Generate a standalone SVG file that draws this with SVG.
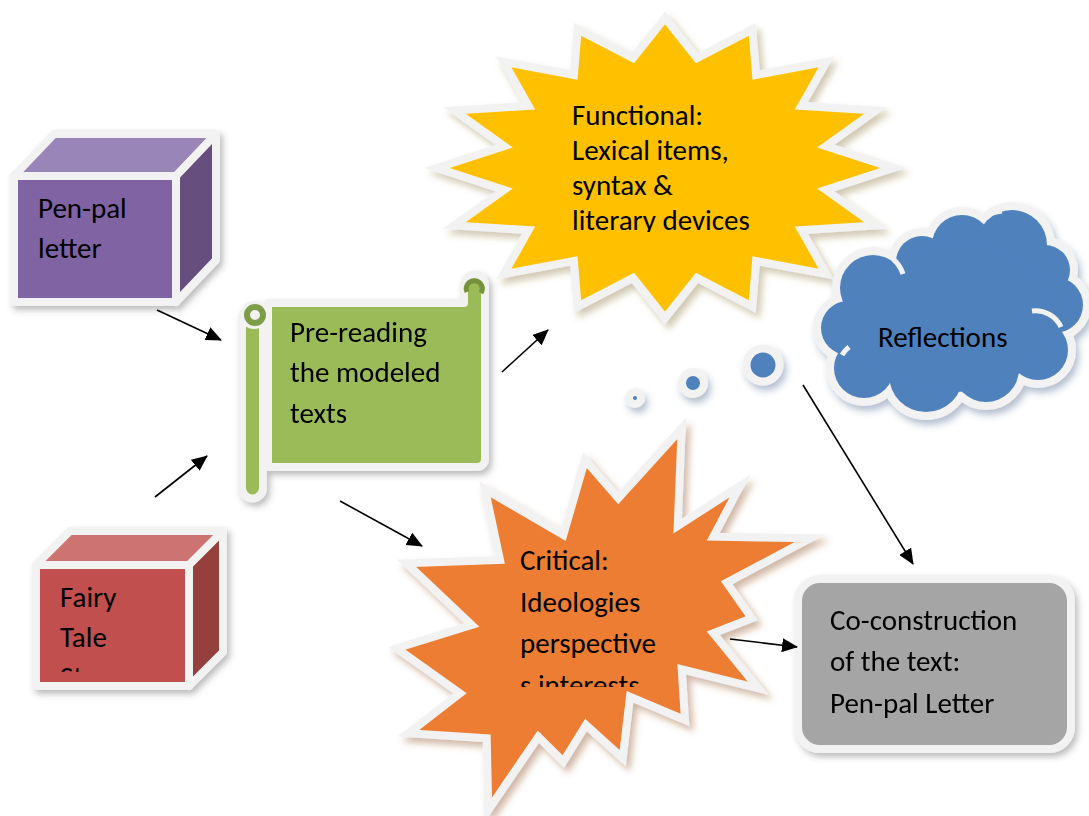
<svg xmlns="http://www.w3.org/2000/svg" width="1089" height="816" viewBox="0 0 1089 816">
<defs>
<style>
.t{font-family:Carlito,Lato,"Liberation Sans",sans-serif;font-size:29px;fill:#000;}
.w{stroke:#F2F2F2;stroke-width:8;stroke-linejoin:miter;}
.wr{stroke:#F2F2F2;stroke-width:8;stroke-linejoin:round;}
.conn{stroke:#000;stroke-width:1.6;fill:none;marker-end:url(#ah);}
</style>
<marker id="ah" markerWidth="16" markerHeight="14" refX="15" refY="7" orient="auto" markerUnits="userSpaceOnUse">
<path d="M0,0 L16,7 L0,14 Z" fill="#000"/>
</marker>
<filter id="shG" x="-20%" y="-20%" width="150%" height="150%"><feDropShadow dx="3" dy="4" stdDeviation="3" flood-color="#404040" flood-opacity="0.35"/></filter>
<filter id="shO" x="-20%" y="-20%" width="150%" height="150%"><feDropShadow dx="4" dy="5" stdDeviation="3.5" flood-color="#8a4a1a" flood-opacity="0.4"/></filter>
<filter id="shY" x="-20%" y="-20%" width="150%" height="150%"><feDropShadow dx="4" dy="5" stdDeviation="3.5" flood-color="#7a6220" flood-opacity="0.35"/></filter>
<filter id="shB" x="-20%" y="-20%" width="150%" height="150%"><feDropShadow dx="3" dy="5" stdDeviation="3.5" flood-color="#2a4a7a" flood-opacity="0.35"/></filter>
<clipPath id="clipY"><rect x="400" y="0" width="600" height="232"/></clipPath>
<clipPath id="clipO"><rect x="400" y="400" width="400" height="287"/></clipPath>
<clipPath id="clipR"><rect x="0" y="500" width="250" height="172"/></clipPath>
<g id="cloudShapes">
<circle cx="873" cy="288" r="33"/><circle cx="922" cy="262" r="26"/><circle cx="962" cy="245" r="30"/><circle cx="1012" cy="245" r="35"/><circle cx="1045" cy="270" r="25"/><circle cx="1055" cy="305" r="28"/><circle cx="1038" cy="350" r="30"/><circle cx="986" cy="369" r="33"/><circle cx="926" cy="375" r="37"/><circle cx="864" cy="368" r="30"/><circle cx="848" cy="328" r="27"/><ellipse cx="955" cy="318" rx="97" ry="74"/>
</g>
</defs>
<rect width="1089" height="816" fill="#fff"/>

<g id="functional">
<polygon filter="url(#shY)" class="w" fill="#FFC000" points="665,18 697,58.1 752.3,29.4 756.1,74.9 826.2,61.9 801.4,105.8 875.7,110.6 825.9,146.1 893,168 825.9,189.9 875.7,225.4 801.4,230.2 826.2,274.1 756.1,261.1 752.3,306.6 697,277.9 665,318 633,277.9 577.7,306.6 573.9,261.1 503.8,274.1 528.6,230.2 454.3,225.4 504.1,189.9 437,168 504.1,146.1 454.3,110.6 528.6,105.8 503.8,61.9 573.9,74.9 577.7,29.4 633,58.1"/>
<g clip-path="url(#clipY)">
<text class="t" x="572" y="125">Functional:</text>
<text class="t" x="572" y="160">Lexical items,</text>
<text class="t" x="572" y="195">syntax &amp;</text>
<text class="t" x="572" y="230">literary devices</text>
</g>
</g>

<g id="reflections">
<g filter="url(#shB)">
<use href="#cloudShapes" fill="#F2F2F2" stroke="#F2F2F2" stroke-width="16"/>
</g>
<use href="#cloudShapes" fill="#4F81BD"/>
<g fill="none" stroke="#F2F2F2" stroke-width="5">
<path d="M1032,311 A28,28 0 0 1 1061,327"/>
<path d="M893,259 A33,33 0 0 1 903,274"/>
<path d="M993,213 A35,35 0 0 1 1002,211"/>
<path d="M842,355 A28,28 0 0 1 849,347"/>
</g>
<text class="t" x="878" y="347">Reflections</text>
<g filter="url(#shB)" fill="#4F81BD" stroke="#F2F2F2" stroke-width="8">
<circle cx="763" cy="365" r="16.5"/>
<circle cx="693" cy="383" r="11"/>
<circle cx="635" cy="398" r="6"/>
</g>
</g>

<g id="prereading" filter="url(#shG)">
<path class="wr" fill="#9BBB59" d="M268,303 H464 V285 A10.5,10.5 0 0 1 485,285 V459 A8,8 0 0 1 477,467 H268 Z"/>
<path class="wr" fill="#9BBB59" d="M242,316 V488 A10.5,10.5 0 0 0 263,488 V316 Z"/>
<circle cx="254" cy="315" r="11" fill="#9BBB59" stroke="#F2F2F2" stroke-width="6"/>
<circle cx="255" cy="315" r="8" fill="#F2F2F2" stroke="#7E9D48" stroke-width="6"/>
<path d="M467,292 A8,8 0 1 1 481,293" fill="none" stroke="#76923C" stroke-width="5"/>
<text class="t" x="290" y="342">Pre-reading</text>
<text class="t" x="290" y="382">the modeled</text>
<text class="t" x="290" y="423">texts</text>
</g>

<g id="critical">
<polygon filter="url(#shO)" class="w" fill="#ED7D31" points="681.7,428.3 677.7,526 740,486 713.3,536.7 810,538.3 726.7,582.7 751.7,618.3 713.3,633.3 758.3,688.3 681.7,669.3 685,720 630,696.7 622.7,758.3 586,725 563.3,761.7 538.3,736.7 488.3,810 486.7,738.3 408.3,733.3 460,693.3 396.7,648.3 471.7,625 406.7,563.3 500,560 485,489.3 563.3,535 585,460 618.3,498.3"/>
<g clip-path="url(#clipO)">
<text class="t" x="520" y="570">Critical:</text>
<text class="t" x="520" y="612">Ideologies</text>
<text class="t" x="520" y="653">perspective</text>
<text class="t" x="520" y="695">s interests</text>
</g>
</g>

<g id="coconstruction" filter="url(#shG)">
<rect class="w" x="798" y="579" width="273" height="170" rx="22" fill="#A5A5A5"/>
<text class="t" x="830" y="630">Co-construction</text>
<text class="t" x="830" y="671">of the text:</text>
<text class="t" x="830" y="713">Pen-pal Letter</text>
</g>

<g id="penpal">
<g filter="url(#shG)">
<polygon class="wr" fill="#9A85B8" points="14,176 54,134 216,134 176,176"/>
<polygon class="wr" fill="#66507F" points="176,176 216,134 216,260 176,302"/>
<rect class="wr" x="14" y="176" width="162" height="126" fill="#8064A2"/>
</g>
<text class="t" x="38" y="218">Pen-pal</text>
<text class="t" x="38" y="258">letter</text>
</g>

<g id="fairytale">
<g filter="url(#shG)">
<polygon class="wr" fill="#CD7371" points="36,565 70,531 223,531 189,565"/>
<polygon class="wr" fill="#953F3D" points="189,565 223,531 223,652 189,686"/>
<rect class="wr" x="36" y="565" width="153" height="121" fill="#C0504D"/>
</g>
<g clip-path="url(#clipR)">
<text class="t" x="60" y="607">Fairy</text>
<text class="t" x="60" y="647">Tale</text>
<text class="t" x="60" y="687">Story</text>
</g>
</g>

<g id="connectors">
<line class="conn" x1="157" y1="310" x2="221" y2="340"/>
<line class="conn" x1="155" y1="497" x2="207" y2="456"/>
<line class="conn" x1="502" y1="372" x2="548" y2="330"/>
<line class="conn" x1="340" y1="501" x2="422" y2="546"/>
<line class="conn" x1="803" y1="385" x2="913" y2="564"/>
<line class="conn" x1="730" y1="639" x2="797" y2="647"/>
</g>
</svg>
